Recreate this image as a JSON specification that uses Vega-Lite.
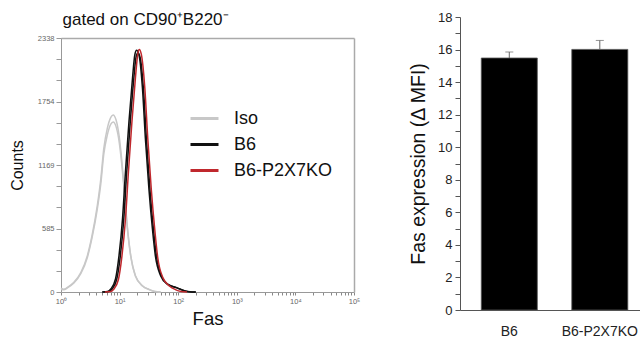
{
  "$schema": "https://vega.github.io/schema/vega-lite/v6.json",
  "padding": {"left": 9, "top": 10, "right": 0, "bottom": 0},
  "spacing": 48,
  "background": "white",
  "config": {
    "font": "Liberation Sans",
    "view": {"stroke": null},
    "axis": {"labelFont": "Liberation Sans", "titleFont": "Liberation Sans", "grid": false},
    "legend": {"labelFont": "Liberation Sans"}
  },
  "datasets": {
    "hist": [
      {"f": 1, "c": 35, "g": "Iso", "r": "Iso1"},
      {"f": 1.122, "c": 25, "g": "Iso", "r": "Iso1"},
      {"f": 1.288, "c": 43, "g": "Iso", "r": "Iso1"},
      {"f": 1.66, "c": 90, "g": "Iso", "r": "Iso1"},
      {"f": 2.188, "c": 182, "g": "Iso", "r": "Iso1"},
      {"f": 2.818, "c": 335, "g": "Iso", "r": "Iso1"},
      {"f": 3.388, "c": 520, "g": "Iso", "r": "Iso1"},
      {"f": 4.169, "c": 797, "g": "Iso", "r": "Iso1"},
      {"f": 4.786, "c": 1044, "g": "Iso", "r": "Iso1"},
      {"f": 5.37, "c": 1321, "g": "Iso", "r": "Iso1"},
      {"f": 6.166, "c": 1506, "g": "Iso", "r": "Iso1"},
      {"f": 7.079, "c": 1608, "g": "Iso", "r": "Iso1"},
      {"f": 7.762, "c": 1630, "g": "Iso", "r": "Iso1"},
      {"f": 8.71, "c": 1583, "g": "Iso", "r": "Iso1"},
      {"f": 9.772, "c": 1444, "g": "Iso", "r": "Iso1"},
      {"f": 10.96, "c": 1198, "g": "Iso", "r": "Iso1"},
      {"f": 12.02, "c": 952, "g": "Iso", "r": "Iso1"},
      {"f": 13.49, "c": 613, "g": "Iso", "r": "Iso1"},
      {"f": 15.49, "c": 335, "g": "Iso", "r": "Iso1"},
      {"f": 18.62, "c": 150, "g": "Iso", "r": "Iso1"},
      {"f": 24.55, "c": 58, "g": "Iso", "r": "Iso1"},
      {"f": 31.62, "c": 25, "g": "Iso", "r": "Iso1"},
      {"f": 39.81, "c": 5, "g": "Iso", "r": "Iso1"},
      {"f": 50.12, "c": 0, "g": "Iso", "r": "Iso1"},
      {"f": 1, "c": 25, "g": "Iso", "r": "Iso2"},
      {"f": 1.122, "c": 20, "g": "Iso", "r": "Iso2"},
      {"f": 1.288, "c": 38, "g": "Iso", "r": "Iso2"},
      {"f": 1.66, "c": 82, "g": "Iso", "r": "Iso2"},
      {"f": 2.188, "c": 170, "g": "Iso", "r": "Iso2"},
      {"f": 2.818, "c": 318, "g": "Iso", "r": "Iso2"},
      {"f": 3.388, "c": 500, "g": "Iso", "r": "Iso2"},
      {"f": 4.169, "c": 765, "g": "Iso", "r": "Iso2"},
      {"f": 4.786, "c": 1000, "g": "Iso", "r": "Iso2"},
      {"f": 5.37, "c": 1268, "g": "Iso", "r": "Iso2"},
      {"f": 6.166, "c": 1445, "g": "Iso", "r": "Iso2"},
      {"f": 7.079, "c": 1545, "g": "Iso", "r": "Iso2"},
      {"f": 7.762, "c": 1565, "g": "Iso", "r": "Iso2"},
      {"f": 8.71, "c": 1522, "g": "Iso", "r": "Iso2"},
      {"f": 9.772, "c": 1390, "g": "Iso", "r": "Iso2"},
      {"f": 10.96, "c": 1160, "g": "Iso", "r": "Iso2"},
      {"f": 12.02, "c": 925, "g": "Iso", "r": "Iso2"},
      {"f": 13.49, "c": 600, "g": "Iso", "r": "Iso2"},
      {"f": 15.49, "c": 330, "g": "Iso", "r": "Iso2"},
      {"f": 18.62, "c": 148, "g": "Iso", "r": "Iso2"},
      {"f": 24.55, "c": 55, "g": "Iso", "r": "Iso2"},
      {"f": 31.62, "c": 22, "g": "Iso", "r": "Iso2"},
      {"f": 39.81, "c": 4, "g": "Iso", "r": "Iso2"},
      {"f": 50.12, "c": 0, "g": "Iso", "r": "Iso2"},
      {"f": 5.012, "c": 0, "g": "B6", "r": "B6a"},
      {"f": 6.31, "c": 5, "g": "B6", "r": "B6a"},
      {"f": 7.079, "c": 28, "g": "B6", "r": "B6a"},
      {"f": 8.511, "c": 120, "g": "B6", "r": "B6a"},
      {"f": 9.772, "c": 335, "g": "B6", "r": "B6a"},
      {"f": 11.22, "c": 675, "g": "B6", "r": "B6a"},
      {"f": 12.59, "c": 1106, "g": "B6", "r": "B6a"},
      {"f": 14.45, "c": 1568, "g": "B6", "r": "B6a"},
      {"f": 16.6, "c": 1968, "g": "B6", "r": "B6a"},
      {"f": 18.2, "c": 2184, "g": "B6", "r": "B6a"},
      {"f": 19.5, "c": 2225, "g": "B6", "r": "B6a"},
      {"f": 21.38, "c": 2184, "g": "B6", "r": "B6a"},
      {"f": 24.55, "c": 1876, "g": "B6", "r": "B6a"},
      {"f": 27.54, "c": 1414, "g": "B6", "r": "B6a"},
      {"f": 31.62, "c": 952, "g": "B6", "r": "B6a"},
      {"f": 36.31, "c": 582, "g": "B6", "r": "B6a"},
      {"f": 40.74, "c": 335, "g": "B6", "r": "B6a"},
      {"f": 50.12, "c": 150, "g": "B6", "r": "B6a"},
      {"f": 64.57, "c": 74, "g": "B6", "r": "B6a"},
      {"f": 91.2, "c": 43, "g": "B6", "r": "B6a"},
      {"f": 125.9, "c": 12, "g": "B6", "r": "B6a"},
      {"f": 151.4, "c": 3, "g": "B6", "r": "B6a"},
      {"f": 199.5, "c": 0, "g": "B6", "r": "B6a"},
      {"f": 5.248, "c": 0, "g": "B6", "r": "B6b"},
      {"f": 6.607, "c": 5, "g": "B6", "r": "B6b"},
      {"f": 7.413, "c": 25, "g": "B6", "r": "B6b"},
      {"f": 8.913, "c": 115, "g": "B6", "r": "B6b"},
      {"f": 10.23, "c": 320, "g": "B6", "r": "B6b"},
      {"f": 11.75, "c": 660, "g": "B6", "r": "B6b"},
      {"f": 13.18, "c": 1090, "g": "B6", "r": "B6b"},
      {"f": 15.14, "c": 1550, "g": "B6", "r": "B6b"},
      {"f": 17.38, "c": 1950, "g": "B6", "r": "B6b"},
      {"f": 19.05, "c": 2160, "g": "B6", "r": "B6b"},
      {"f": 20.42, "c": 2200, "g": "B6", "r": "B6b"},
      {"f": 22.39, "c": 2160, "g": "B6", "r": "B6b"},
      {"f": 25.7, "c": 1850, "g": "B6", "r": "B6b"},
      {"f": 28.84, "c": 1390, "g": "B6", "r": "B6b"},
      {"f": 33.11, "c": 930, "g": "B6", "r": "B6b"},
      {"f": 38.02, "c": 565, "g": "B6", "r": "B6b"},
      {"f": 42.66, "c": 325, "g": "B6", "r": "B6b"},
      {"f": 52.48, "c": 140, "g": "B6", "r": "B6b"},
      {"f": 67.61, "c": 68, "g": "B6", "r": "B6b"},
      {"f": 95.5, "c": 38, "g": "B6", "r": "B6b"},
      {"f": 131.8, "c": 10, "g": "B6", "r": "B6b"},
      {"f": 158.5, "c": 2, "g": "B6", "r": "B6b"},
      {"f": 199.5, "c": 0, "g": "B6", "r": "B6b"},
      {"f": 5.623, "c": 0, "g": "B6-P2X7KO", "r": "KO1"},
      {"f": 7.079, "c": 4, "g": "B6-P2X7KO", "r": "KO1"},
      {"f": 7.943, "c": 25, "g": "B6-P2X7KO", "r": "KO1"},
      {"f": 9.55, "c": 115, "g": "B6-P2X7KO", "r": "KO1"},
      {"f": 10.96, "c": 330, "g": "B6-P2X7KO", "r": "KO1"},
      {"f": 12.59, "c": 670, "g": "B6-P2X7KO", "r": "KO1"},
      {"f": 14.13, "c": 1100, "g": "B6-P2X7KO", "r": "KO1"},
      {"f": 16.22, "c": 1565, "g": "B6-P2X7KO", "r": "KO1"},
      {"f": 18.62, "c": 1970, "g": "B6-P2X7KO", "r": "KO1"},
      {"f": 20.42, "c": 2190, "g": "B6-P2X7KO", "r": "KO1"},
      {"f": 21.63, "c": 2232, "g": "B6-P2X7KO", "r": "KO1"},
      {"f": 23.44, "c": 2190, "g": "B6-P2X7KO", "r": "KO1"},
      {"f": 26.92, "c": 1880, "g": "B6-P2X7KO", "r": "KO1"},
      {"f": 30.2, "c": 1420, "g": "B6-P2X7KO", "r": "KO1"},
      {"f": 34.67, "c": 950, "g": "B6-P2X7KO", "r": "KO1"},
      {"f": 39.81, "c": 575, "g": "B6-P2X7KO", "r": "KO1"},
      {"f": 44.67, "c": 320, "g": "B6-P2X7KO", "r": "KO1"},
      {"f": 54.95, "c": 130, "g": "B6-P2X7KO", "r": "KO1"},
      {"f": 70.79, "c": 55, "g": "B6-P2X7KO", "r": "KO1"},
      {"f": 91.2, "c": 20, "g": "B6-P2X7KO", "r": "KO1"},
      {"f": 112.2, "c": 5, "g": "B6-P2X7KO", "r": "KO1"},
      {"f": 141.3, "c": 0, "g": "B6-P2X7KO", "r": "KO1"}
    ],
    "bars": [
      {"g": "B6", "v": 15.48, "e": 15.85},
      {"g": "B6-P2X7KO", "v": 16.01, "e": 16.56}
    ]
  },
  "hconcat": [
    {
      "width": 293,
      "height": 293,
      "data": {"name": "hist"},
      "layer": [
        {
          "mark": {"type": "line", "interpolate": "monotone", "strokeWidth": 1.5},
          "encoding": {
            "x": {"field": "f", "type": "quantitative",
              "scale": {"type": "log", "domain": [1, 100000], "nice": false},
              "axis": {"orient": "bottom", "offset": -18,
                "values": [1,2,3,4,5,6,7,8,9,10,20,30,40,50,60,70,80,90,100,200,300,400,500,600,700,800,900,1000,2000,3000,4000,5000,6000,7000,8000,9000,10000,20000,30000,40000,50000,60000,70000,80000,90000,100000],
                "labelExpr": "datum.value == 1 ? '10⁰' : datum.value == 10 ? '10¹' : datum.value == 100 ? '10²' : datum.value == 1000 ? '10³' : datum.value == 10000 ? '10⁴' : datum.value == 100000 ? '10⁵' : ''",
                "title": "Fas", "titleFontSize": 18.5, "titleFontWeight": "normal", "titleColor": "#111111", "titlePadding": 5,
                "labelFontSize": 7.5, "labelColor": "#666666", "labelPadding": 2, "labelFlush": false, "labelOverlap": false,
                "tickSize": 3, "tickColor": "#888888", "domainColor": "#999999"}},
            "y": {"field": "c", "type": "quantitative",
              "scale": {"domain": [0, 2338], "range": [275, 21], "nice": false, "zero": false},
              "axis": {"orient": "left",
                "values": [0, 194.833, 389.667, 584.5, 779.333, 974.167, 1169, 1363.833, 1558.667, 1753.5, 1948.333, 2143.167, 2338],
                "labelExpr": "indexof([0,585,1169,1754,2338], round(datum.value)) >= 0 ? format(round(datum.value), 'd') : ''",
                "title": "Counts", "titleFontSize": 16, "titleFontWeight": "normal", "titleColor": "#111111", "titlePadding": 12,
                "labelFontSize": 7.5, "labelColor": "#666666", "labelPadding": 2, "labelFlush": false, "labelOverlap": false,
                "tickSize": 5, "tickColor": "#999999", "domainColor": "#999999"}},
            "color": {"field": "g", "type": "nominal",
              "scale": {"domain": ["Iso", "B6", "B6-P2X7KO"], "range": ["#c8c8c8", "#111111", "#c0282d"]},
              "legend": {"orient": "none", "legendX": 128, "legendY": 86, "title": null, "symbolType": "stroke", "symbolSize": 784, "symbolStrokeWidth": 3, "labelFontSize": 18, "labelColor": "#111111", "labelOffset": 14, "rowPadding": 1, "padding": 0}},
            "detail": {"field": "r", "type": "nominal"}
          }
        },
        {
          "mark": {"type": "point", "opacity": 0},
          "encoding": {
            "x": {"field": "f", "type": "quantitative",
              "scale": {"type": "log", "domain": [1, 100000], "nice": false},
              "axis": {"orient": "top", "offset": -21, "labels": false, "ticks": false, "domainColor": "#aaaaaa", "domainWidth": 1.5,
                "title": "gated on CD90⁺B220⁻", "titleFontSize": 17, "titleFontWeight": "normal", "titleColor": "#111111",
                "titleX": 1, "titleY": -13.5, "titleAlign": "left", "titleAnchor": "start", "titleBaseline": "alphabetic"}},
            "y": {"field": "c", "type": "quantitative",
              "scale": {"domain": [0, 2338], "range": [275, 21], "nice": false, "zero": false},
              "axis": {"orient": "right", "offset": 0, "labels": false, "ticks": false, "title": null, "domainColor": "#aaaaaa", "domainWidth": 1.5}}
          }
        }
      ],
      "resolve": {"axis": {"x": "independent", "y": "independent"}}
    },
    {
      "width": 182,
      "height": 293,
      "data": {"name": "bars"},
      "encoding": {
        "x": {"field": "g", "type": "nominal", "sort": null,
          "scale": {"paddingInner": 0.381, "paddingOuter": 0.196, "align": 0.6},
          "axis": {"title": null, "labelAngle": 0, "ticks": false, "labelFontSize": 14, "labelColor": "#222222", "labelPadding": 14, "domainColor": "#555555"}}
      },
      "layer": [
        {
          "mark": {"type": "bar", "color": "#000000", "stroke": "#555555", "strokeWidth": 0.8},
          "encoding": {
            "y": {"field": "v", "type": "quantitative",
              "scale": {"domain": [0, 18], "nice": false},
              "axis": {"values": [0,1,2,3,4,5,6,7,8,9,10,11,12,13,14,15,16,17,18],
                "labelExpr": "datum.value % 2 == 0 ? datum.label : ''",
                "title": "Fas expression (Δ MFI)", "titleFontSize": 19.5, "titleFontWeight": "normal", "titleColor": "#111111", "titlePadding": 9,
                "labelFontSize": 13, "labelColor": "#222222", "labelPadding": 3, "labelFlush": false, "labelOverlap": false,
                "tickSize": 5, "tickColor": "#555555", "domainColor": "#555555"}}
          }
        },
        {
          "mark": {"type": "rule", "color": "#666666", "strokeWidth": 1},
          "encoding": {
            "y": {"field": "v", "type": "quantitative",
              "axis": {"values": [0,1,2,3,4,5,6,7,8,9,10,11,12,13,14,15,16,17,18],
                "labelExpr": "datum.value % 2 == 0 ? datum.label : ''",
                "title": "Fas expression (Δ MFI)", "titleFontSize": 19.5, "titleFontWeight": "normal", "titleColor": "#111111", "titlePadding": 9,
                "labelFontSize": 13, "labelColor": "#222222", "labelPadding": 3, "labelFlush": false, "labelOverlap": false,
                "tickSize": 5, "tickColor": "#555555", "domainColor": "#555555"}},
            "y2": {"field": "e"}
          }
        },
        {
          "mark": {"type": "tick", "color": "#666666", "thickness": 1, "size": 8},
          "encoding": {
            "y": {"field": "e", "type": "quantitative",
              "axis": {"values": [0,1,2,3,4,5,6,7,8,9,10,11,12,13,14,15,16,17,18],
                "labelExpr": "datum.value % 2 == 0 ? datum.label : ''",
                "title": "Fas expression (Δ MFI)", "titleFontSize": 19.5, "titleFontWeight": "normal", "titleColor": "#111111", "titlePadding": 9,
                "labelFontSize": 13, "labelColor": "#222222", "labelPadding": 3, "labelFlush": false, "labelOverlap": false,
                "tickSize": 5, "tickColor": "#555555", "domainColor": "#555555"}}
          }
        }
      ]
    }
  ]
}
